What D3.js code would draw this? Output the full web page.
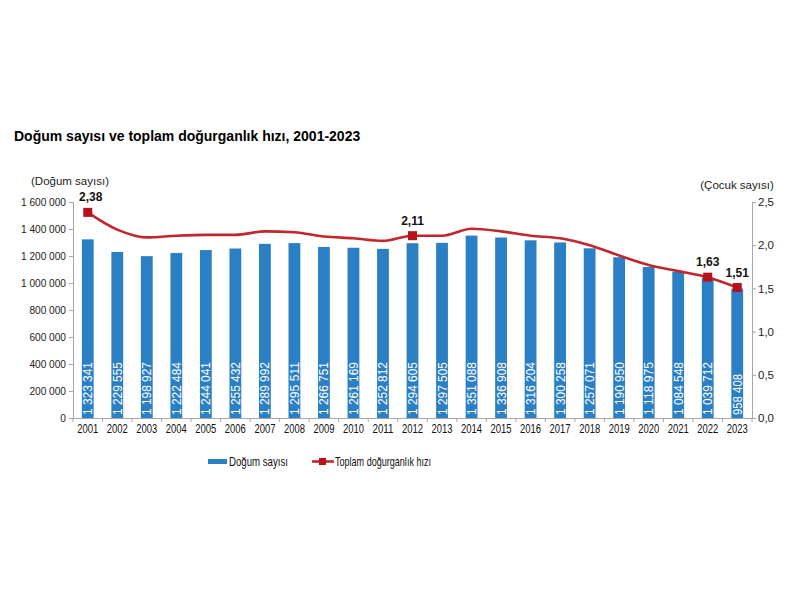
<!DOCTYPE html>
<html><head><meta charset="utf-8">
<script src="https://cdn.jsdelivr.net/npm/d3@7"></script>
<style>
body{margin:0;background:#fff;}
text{font-family:"Liberation Sans",Arial,sans-serif;}
</style></head>
<body>
<svg id="c" width="800" height="600"></svg>
<script>
const years = ["2001","2002","2003","2004","2005","2006","2007","2008","2009","2010","2011","2012","2013","2014","2015","2016","2017","2018","2019","2020","2021","2022","2023"];
const births = [1323341,1229555,1198927,1222484,1244041,1255432,1289992,1295511,1266751,1261169,1252812,1294605,1297505,1351088,1336908,1316204,1300258,1257071,1190950,1118975,1084548,1039712,958408];
const tfr = [2.38,2.18,2.09,2.11,2.12,2.12,2.16,2.15,2.10,2.08,2.05,2.11,2.11,2.19,2.16,2.11,2.08,2.00,1.88,1.77,1.70,1.63,1.51];
const markedYears = ["2001","2012","2022","2023"];
const leftTicks = [0,200000,400000,600000,800000,1000000,1200000,1400000,1600000];
const rightTicks = [0,0.5,1.0,1.5,2.0,2.5];

const svg = d3.select("#c");
const m = {l:73, r:752, t:202, b:418};
const x = d3.scaleBand().domain(years).range([m.l, m.r]).paddingInner(0.6).paddingOuter(0.3);
const xc = d3.scaleBand().domain(years).range([m.l, m.r]);
const yL = d3.scaleLinear().domain([0,1600000]).range([m.b, m.t]);
const yR = d3.scaleLinear().domain([0,2.5]).range([m.b, m.t]);
const fmtSp = v => d3.format(",")(v).replace(/,/g," ");
const fmtC = (v,d) => d3.format("."+d+"f")(v).replace(".",",");
const axisCol = "#a6a6a6";

svg.append("text").attr("x",14).attr("y",141).attr("font-weight","bold").attr("font-size",14).attr("fill","#000")
  .text("Doğum sayısı ve toplam doğurganlık hızı, 2001-2023");

// left axis
const gl = svg.append("g").attr("transform",`translate(${m.l},0)`)
  .call(d3.axisLeft(yL).tickValues(leftTicks).tickSize(4).tickFormat(fmtSp));
gl.select(".domain").attr("stroke",axisCol);
gl.selectAll(".tick line").attr("stroke",axisCol);
gl.selectAll(".tick text").attr("font-size",11.5).attr("fill","#222").attr("x",-7)
  .attr("textLength",function(){return this.getComputedTextLength()*0.88;}).attr("lengthAdjust","spacingAndGlyphs");

// right axis
const gr = svg.append("g").attr("transform",`translate(${m.r},0)`)
  .call(d3.axisRight(yR).tickValues(rightTicks).tickSize(4).tickFormat(v=>fmtC(v,1)));
gr.select(".domain").attr("stroke",axisCol);
gr.selectAll(".tick line").attr("stroke",axisCol);
gr.selectAll(".tick text").attr("font-size",11.5).attr("fill","#222").attr("x",6);

// bottom axis
const gb = svg.append("g").attr("transform",`translate(0,${m.b})`)
  .call(d3.axisBottom(xc).tickSize(0));
gb.select(".domain").attr("stroke",axisCol);
gb.selectAll(".tick text").attr("font-size",13).attr("fill","#111").attr("dy","0.9em")
  .attr("textLength",21).attr("lengthAdjust","spacingAndGlyphs");
svg.append("g").selectAll("line").data(d3.range(years.length+1)).join("line")
  .attr("x1",i=>m.l + i*xc.step()).attr("x2",i=>m.l + i*xc.step())
  .attr("y1",m.b).attr("y2",m.b+4).attr("stroke",axisCol);

svg.append("text").attr("x",70).attr("y",185).attr("text-anchor","middle").attr("font-size",11.5).attr("fill","#222").text("(Doğum sayısı)");
svg.append("text").attr("x",737).attr("y",189).attr("text-anchor","middle").attr("font-size",11.5).attr("fill","#222").text("(Çocuk sayısı)");

// bars
const barCol = "#2b7fc4";
svg.append("g").selectAll("rect").data(years).join("rect")
  .attr("x",d=>x(d)).attr("width",x.bandwidth())
  .attr("y",(d,i)=>yL(births[i])).attr("height",(d,i)=>m.b - yL(births[i]))
  .attr("fill",barCol);
svg.append("g").selectAll("text").data(years).join("text")
  .attr("transform",d=>`translate(${x(d)+x.bandwidth()/2+4.5},${m.b-3}) rotate(-90)`)
  .attr("font-size",12.5).attr("fill","#fff")
  .attr("textLength",(d,i)=>births[i]>=1000000?53:41).attr("lengthAdjust","spacingAndGlyphs")
  .text((d,i)=>fmtSp(births[i]));

// line
const lineCol = "#c1272d";
const line = d3.line().x((d,i)=>xc(years[i])+xc.bandwidth()/2).y(d=>yR(d)).curve(d3.curveMonotoneX);
svg.append("path").datum(tfr).attr("d",line).attr("fill","none").attr("stroke",lineCol).attr("stroke-width",2.6);
const mk = markedYears.map(y=>({y, v:tfr[years.indexOf(y)]}));
svg.append("g").selectAll("rect").data(mk).join("rect")
  .attr("x",d=>xc(d.y)+xc.bandwidth()/2-4.5).attr("y",d=>yR(d.v)-4.5)
  .attr("width",9).attr("height",9).attr("fill","#b5121b");
svg.append("g").selectAll("text").data(mk).join("text")
  .attr("x",d=>xc(d.y)+xc.bandwidth()/2 + (d.y==="2001"?3:0)).attr("y",d=>yR(d.v)-11)
  .attr("text-anchor","middle").attr("font-weight","bold").attr("font-size",12).attr("fill","#111")
  .text(d=>fmtC(d.v,2));

// legend
const lg = svg.append("g");
lg.append("rect").attr("x",208).attr("y",459).attr("width",19).attr("height",5).attr("fill",barCol);
lg.append("text").attr("x",229).attr("y",466).attr("font-size",13).attr("fill","#111")
  .attr("textLength",59).attr("lengthAdjust","spacingAndGlyphs").text("Doğum sayısı");
lg.append("line").attr("x1",312).attr("x2",334).attr("y1",461.5).attr("y2",461.5).attr("stroke",lineCol).attr("stroke-width",2.6);
lg.append("rect").attr("x",319).attr("y",458).attr("width",7).attr("height",7).attr("fill","#b5121b");
lg.append("text").attr("x",335).attr("y",466).attr("font-size",13).attr("fill","#111")
  .attr("textLength",96).attr("lengthAdjust","spacingAndGlyphs").text("Toplam doğurganlık hızı");
</script>
</body></html>
